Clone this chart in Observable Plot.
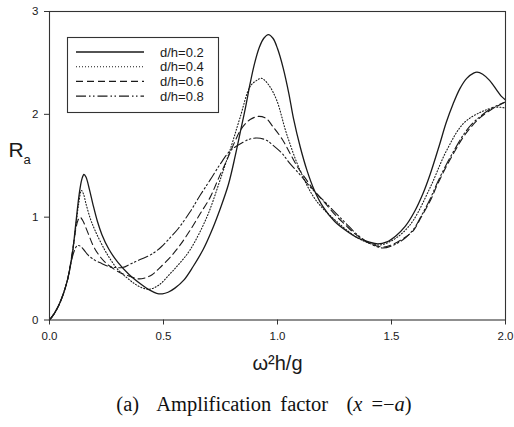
<!DOCTYPE html>
<html>
<head>
<meta charset="utf-8">
<script src="https://cdn.jsdelivr.net/npm/d3@7"></script>
<script src="https://cdn.jsdelivr.net/npm/@observablehq/plot@0.6"></script>
<style>
  body { margin: 0; background: white; }
  #wrap { position: relative; width: 514px; height: 427px; }
  #caption { position: absolute; left: 0; width: 528px; top: 393px; text-align: center;
    font-family: "Liberation Serif", "DejaVu Serif", serif; font-size: 20.5px; color: #111; word-spacing: 4px; }
</style>
</head>
<body>
<div id="wrap"><div id="chart"></div><div id="caption">(a)&nbsp; Amplification factor&nbsp; (<i>x</i> =−<i>a</i>)</div></div>
<script>
const seriesNames = ["d/h=0.2", "d/h=0.4", "d/h=0.6", "d/h=0.8"];
const dashes = [null, "1,2", "7,4", "10,3,1.5,2.5,1.5,3"];

const x02 = [0,0.02,0.04,0.06,0.08,0.10,0.115,0.13,0.142,0.151,0.16,0.175,0.19,0.21,0.23,0.26,0.30,0.35,0.40,0.44,0.47,0.495,0.52,0.55,0.59,0.63,0.675,0.71,0.75,0.785,0.815,0.84,0.86,0.88,0.90,0.92,0.94,0.96,0.98,1.00,1.025,1.05,1.07,1.10,1.13,1.16,1.20,1.25,1.30,1.35,1.40,1.44,1.48,1.52,1.56,1.60,1.64,1.67,1.71,1.74,1.77,1.80,1.83,1.86,1.875,1.90,1.93,1.96,1.98,2.00];
const y02 = [0,0.06,0.14,0.25,0.40,0.64,0.93,1.22,1.37,1.415,1.39,1.27,1.13,0.96,0.83,0.69,0.56,0.44,0.35,0.29,0.26,0.255,0.27,0.31,0.39,0.52,0.69,0.86,1.09,1.32,1.60,1.86,2.07,2.30,2.50,2.65,2.74,2.775,2.74,2.64,2.45,2.20,1.96,1.68,1.45,1.27,1.10,0.96,0.87,0.80,0.76,0.74,0.76,0.82,0.91,1.05,1.24,1.42,1.70,1.92,2.10,2.25,2.35,2.40,2.41,2.39,2.33,2.24,2.18,2.14];

const x04 = [0,0.02,0.04,0.06,0.08,0.10,0.115,0.128,0.14,0.15,0.16,0.18,0.20,0.24,0.27,0.30,0.34,0.375,0.41,0.44,0.48,0.529,0.57,0.616,0.69,0.748,0.80,0.836,0.88,0.909,0.93,0.96,0.996,1.04,1.10,1.17,1.274,1.35,1.40,1.45,1.50,1.55,1.596,1.67,1.742,1.815,1.89,1.96,2.00];
const y04 = [0,0.06,0.14,0.25,0.40,0.64,0.90,1.13,1.26,1.22,1.13,0.98,0.87,0.69,0.58,0.49,0.41,0.35,0.31,0.30,0.34,0.45,0.55,0.68,1.00,1.36,1.71,1.97,2.27,2.33,2.35,2.29,2.14,1.81,1.45,1.16,0.93,0.80,0.75,0.73,0.77,0.85,0.97,1.29,1.65,1.91,2.02,2.07,2.06];

const x06 = [0,0.02,0.04,0.06,0.08,0.10,0.115,0.125,0.134,0.145,0.17,0.19,0.214,0.24,0.273,0.31,0.346,0.39,0.42,0.45,0.48,0.529,0.57,0.616,0.66,0.704,0.74,0.777,0.81,0.836,0.86,0.88,0.916,0.95,0.98,1.02,1.055,1.09,1.128,1.16,1.20,1.25,1.30,1.35,1.40,1.46,1.50,1.55,1.596,1.63,1.67,1.70,1.74,1.78,1.815,1.85,1.89,1.94,2.00];
const y06 = [0,0.06,0.14,0.25,0.40,0.66,0.88,0.97,1.00,0.97,0.84,0.73,0.64,0.57,0.51,0.46,0.43,0.40,0.41,0.44,0.50,0.61,0.72,0.87,1.03,1.19,1.37,1.55,1.72,1.84,1.91,1.95,1.98,1.96,1.88,1.76,1.62,1.48,1.36,1.26,1.16,1.03,0.92,0.82,0.75,0.71,0.73,0.79,0.87,1.00,1.16,1.31,1.49,1.65,1.78,1.88,1.97,2.05,2.12];

const x08 = [0,0.02,0.04,0.06,0.08,0.09,0.10,0.11,0.12,0.128,0.14,0.155,0.17,0.20,0.229,0.26,0.29,0.32,0.36,0.40,0.448,0.49,0.529,0.565,0.616,0.66,0.704,0.75,0.79,0.85,0.88,0.91,0.95,0.98,1.02,1.055,1.10,1.145,1.18,1.216,1.26,1.30,1.35,1.40,1.46,1.50,1.55,1.596,1.63,1.67,1.70,1.74,1.78,1.815,1.85,1.89,1.94,2.00];
const y08 = [0,0.06,0.14,0.25,0.40,0.52,0.61,0.68,0.72,0.725,0.71,0.67,0.63,0.58,0.55,0.52,0.51,0.51,0.55,0.59,0.64,0.71,0.80,0.89,1.05,1.21,1.36,1.52,1.64,1.73,1.76,1.77,1.75,1.70,1.62,1.52,1.41,1.29,1.21,1.13,1.03,0.94,0.83,0.75,0.70,0.72,0.78,0.88,1.01,1.18,1.33,1.51,1.67,1.80,1.90,1.98,2.06,2.12];

const xTicks = [0, 0.5, 1.0, 1.5, 2.0];
const yTicks = [0, 1, 2, 3];

const allX = [x02, x04, x06, x08];
const allY = [y02, y04, y06, y08];
const series = seriesNames.map((name, i) => allX[i].map((x, j) => ({x, y: allY[i][j], name})));

const ink = "#1a1a1a";
const plot = Plot.plot({
  width: 514,
  height: 385,
  marginLeft: 49,
  marginRight: 9,
  marginTop: 11,
  marginBottom: 65.5,
  x: {domain: [0, 2]},
  y: {domain: [0, 3]},
  style: {fontFamily: "'Liberation Sans', Arial, sans-serif", fontSize: "11.5px", color: ink, background: "white", overflow: "visible"},
  marks: [
    Plot.axisX({ticks: xTicks, tickFormat: d3.format(".1f"), tickSize: 5, tickPadding: 7, label: null, stroke: "#333"}),
    Plot.axisY({ticks: yTicks, tickFormat: d3.format("d"), tickSize: 5, tickPadding: 6, label: null, stroke: "#333"}),
    ...series.map((s, i) => Plot.line(s, {x: "x", y: "y", curve: "catmull-rom", stroke: ink, strokeWidth: i === 0 ? 1.3 : 1.1, strokeDasharray: dashes[i]})),
    Plot.frame({stroke: "#333", strokeWidth: 1.1}),
    Plot.text(["ω²h/g"], {frameAnchor: "bottom", dy: 50, fontSize: 20, fill: ink}),
    Plot.text(["R"], {frameAnchor: "left", dx: -41, dy: -15, fontSize: 21, textAnchor: "start", fill: ink}),
    Plot.text(["a"], {frameAnchor: "left", dx: -26, dy: -6, fontSize: 13, textAnchor: "start", fill: ink})
  ]
});
document.getElementById("chart").appendChild(plot);

// legend box
const svg = d3.select(plot);
const lg = svg.append("g").attr("text-anchor", "start");
lg.append("rect").attr("x", 67.5).attr("y", 37.5).attr("width", 151).attr("height", 75)
  .attr("fill", "white").attr("stroke", "#333").attr("stroke-width", 1.1);
seriesNames.forEach((name, i) => {
  const yy = 52 + i * 14.7;
  lg.append("line").attr("x1", 76).attr("x2", 144).attr("y1", yy).attr("y2", yy)
    .attr("stroke", ink).attr("stroke-width", i === 0 ? 1.4 : 1.1)
    .attr("stroke-dasharray", dashes[i]);
  lg.append("text").attr("x", 160).attr("y", yy).attr("dy", "0.35em")
    .attr("text-anchor", "start").attr("font-size", 13).attr("fill", ink).text(name);
});
</script>
</body>
</html>
